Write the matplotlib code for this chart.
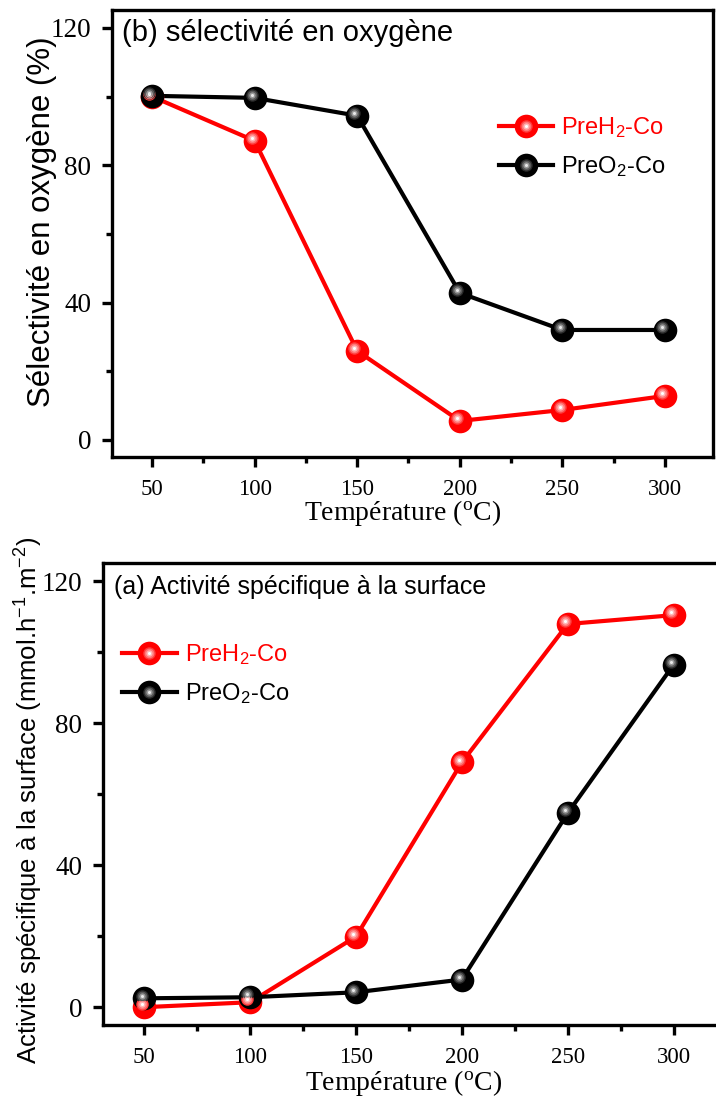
import numpy as np
import matplotlib
matplotlib.use('Agg')
import matplotlib.pyplot as plt
from matplotlib.ticker import MultipleLocator
from matplotlib.transforms import offset_copy

temps = [50, 100, 150, 200, 250, 300]
# (b) oxygen selectivity (%)
sel_h2 = [100.0, 87.1, 25.9, 5.5, 8.7, 12.8]
sel_o2 = [100.2, 99.6, 94.4, 42.8, 32.0, 32.0]
# (a) surface specific activity
act_h2 = [0.0, 1.4, 19.9, 69.0, 108.0, 110.5]
act_o2 = [2.5, 2.8, 4.2, 7.8, 54.7, 96.5]

plt.rcParams['mathtext.default'] = 'regular'
serif = 'Liberation Serif'
sans = 'Liberation Sans'

# ball look: base colour, then a highlight built from shrinking discs
shade = {
    'red': ['red', '#ff3a3a', '#ff7878', '#ffb8b8', 'white'],
    'black': ['black', '#2a2a2a', '#5a5a5a', '#9a9a9a', '#e8e8e8'],
}
sizes = [17, 9, 7, 4.5, 2.2]


def ball_series(ax, x, y, color):
    line, = ax.plot(x, y, color=color, lw=3, zorder=2)
    handles = [line]
    for i, (c, s) in enumerate(zip(shade[color], sizes)):
        tr = ax.transData
        if i > 0:
            tr = offset_copy(ax.transData, fig=ax.figure, x=-2.0, y=2.0, units='points')
        m, = ax.plot(x, y, 'o', ms=s, mfc=c, mec=c, mew=0, transform=tr, zorder=3 + i)
        handles.append(m)
    return tuple(handles)


def style_axes(ax):
    ax.set_xlim(30.5, 323.4)
    ax.set_ylim(-5, 125.2)
    ax.xaxis.set_major_locator(MultipleLocator(50))
    ax.xaxis.set_minor_locator(MultipleLocator(25))
    ax.yaxis.set_major_locator(MultipleLocator(40))
    ax.yaxis.set_minor_locator(MultipleLocator(20))
    for s in ax.spines.values():
        s.set_linewidth(2.4)
    ax.tick_params(which='major', direction='out', length=7, width=2.4)
    ax.tick_params(which='minor', direction='out', length=4.5, width=2.4)
    ax.tick_params(axis='x', labelsize=16.5, pad=9)
    ax.tick_params(axis='y', labelsize=19.5, pad=8)
    for t in ax.get_xticklabels() + ax.get_yticklabels():
        t.set_fontfamily(serif)
    ax.set_xlabel('Température ($^{o}$C)', fontsize=20, family=serif)


fig = plt.figure(figsize=(7.16, 10.97), dpi=100)

# top panel (b)
ax1 = fig.add_axes([0.1564, 0.5834, 0.8394, 0.4075])
h1 = ball_series(ax1, temps, sel_h2, 'red')
h2 = ball_series(ax1, temps, sel_o2, 'black')
style_axes(ax1)
ax1.set_ylabel('Sélectivité en oxygène (%)', fontsize=22.5, family=sans)
ax1.yaxis.set_label_coords(-0.092, 0.526)
ax1.xaxis.set_label_coords(0.484, -0.092)
ax1.text(0.017, 0.949, '(b) sélectivité en oxygène', transform=ax1.transAxes,
         fontsize=21, family=sans, va='center', ha='left')
leg = ax1.legend([h1, h2], ['PreH$_2$-Co', 'PreO$_2$-Co'], loc='center left',
                 bbox_to_anchor=(0.624, 0.693), frameon=False, borderpad=0,
                 handlelength=2.3, handletextpad=0.35, labelspacing=0.6,
                 prop={'family': sans, 'size': 17})
leg.get_texts()[0].set_color('red')

# bottom panel (a)
ax2 = fig.add_axes([0.1439, 0.0657, 0.866, 0.4211])
h3 = ball_series(ax2, temps, act_h2, 'red')
h4 = ball_series(ax2, temps, act_o2, 'black')
style_axes(ax2)
ax2.set_ylabel('Activité spécifique à la surface (mmol.h$^{-1}$.m$^{-2}$)',
               fontsize=18.5, family=sans)
ax2.yaxis.set_label_coords(-0.093, 0.487)
ax2.xaxis.set_label_coords(0.485, -0.093)
ax2.text(0.018, 0.948, '(a) Activité spécifique à la surface', transform=ax2.transAxes,
         fontsize=18, family=sans, va='center', ha='left')
leg2 = ax2.legend([h3, h4], ['PreH$_2$-Co', 'PreO$_2$-Co'], loc='center left',
                  bbox_to_anchor=(0.012, 0.76), frameon=False, borderpad=0,
                  handlelength=2.3, handletextpad=0.35, labelspacing=0.6,
                  prop={'family': sans, 'size': 17})
leg2.get_texts()[0].set_color('red')

fig.savefig('out.png', dpi=100)
